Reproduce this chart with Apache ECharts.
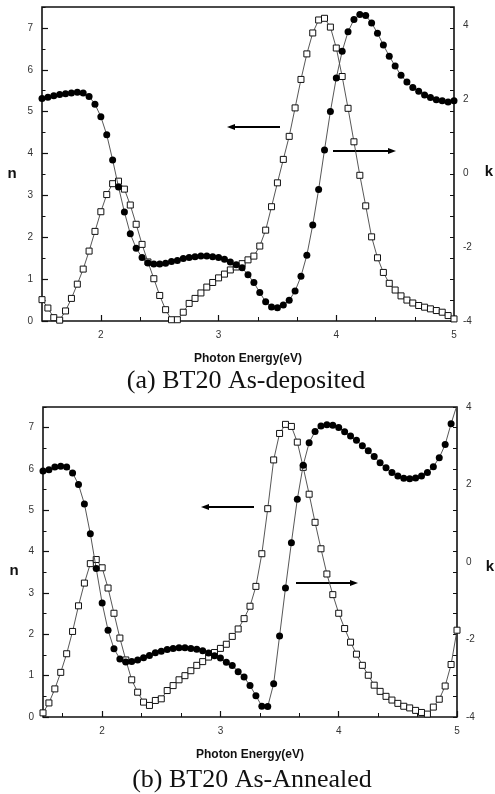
<!DOCTYPE html>
<html>
<head>
<meta charset="utf-8">
<title>BT20 n, k</title>
<script src="https://cdn.jsdelivr.net/npm/echarts@6.0.0/dist/echarts.min.js"></script>
<style>
    html, body { margin: 0; padding: 0; background: #fff; }
    #chart { width: 495px; height: 794px; }
</style>
</head>
<body>
<div id="chart"></div>
<script>
// photon energy grid (eV), shared by both panels
const energy = [1.50, 1.55, 1.60, 1.65, 1.70, 1.75, 1.80, 1.85, 1.90, 1.95,
    2.00, 2.05, 2.10, 2.15, 2.20, 2.25, 2.30, 2.35, 2.40, 2.45,
    2.50, 2.55, 2.60, 2.65, 2.70, 2.75, 2.80, 2.85, 2.90, 2.95,
    3.00, 3.05, 3.10, 3.15, 3.20, 3.25, 3.30, 3.35, 3.40, 3.45,
    3.50, 3.55, 3.60, 3.65, 3.70, 3.75, 3.80, 3.85, 3.90, 3.95,
    4.00, 4.05, 4.10, 4.15, 4.20, 4.25, 4.30, 4.35, 4.40, 4.45,
    4.50, 4.55, 4.60, 4.65, 4.70, 4.75, 4.80, 4.85, 4.90, 4.95, 5.00];

// (a) as-deposited : n (open squares, left axis), k (filled circles, right axis)
const nDeposited = [0.51, 0.31, 0.08, 0.02, 0.24, 0.54, 0.88, 1.24, 1.67, 2.14,
    2.61, 3.02, 3.28, 3.34, 3.15, 2.77, 2.31, 1.83, 1.41, 1.01,
    0.61, 0.27, 0.03, 0.03, 0.21, 0.42, 0.54, 0.67, 0.81, 0.92,
    1.03, 1.12, 1.22, 1.29, 1.37, 1.46, 1.55, 1.79, 2.17, 2.73,
    3.30, 3.86, 4.41, 5.09, 5.77, 6.38, 6.88, 7.19, 7.23, 7.02,
    6.52, 5.84, 5.08, 4.28, 3.48, 2.75, 2.01, 1.51, 1.16, 0.90,
    0.74, 0.60, 0.50, 0.43, 0.37, 0.33, 0.29, 0.25, 0.21, 0.13, 0.05];
const kDeposited = [2.02, 2.06, 2.10, 2.13, 2.15, 2.17, 2.19, 2.17, 2.08, 1.87,
    1.53, 1.04, 0.36, -0.37, -1.05, -1.64, -2.03, -2.28, -2.43, -2.46,
    -2.46, -2.44, -2.39, -2.36, -2.31, -2.28, -2.26, -2.24, -2.24, -2.26,
    -2.28, -2.33, -2.40, -2.48, -2.56, -2.75, -2.96, -3.23, -3.48, -3.62,
    -3.64, -3.57, -3.44, -3.19, -2.79, -2.22, -1.40, -0.44, 0.63, 1.67,
    2.58, 3.30, 3.83, 4.16, 4.30, 4.27, 4.07, 3.79, 3.47, 3.17,
    2.90, 2.65, 2.47, 2.32, 2.22, 2.12, 2.05, 1.99, 1.96, 1.93, 1.96];

// (b) as-annealed
const nAnnealed = [0.10, 0.34, 0.68, 1.08, 1.53, 2.07, 2.69, 3.24, 3.71, 3.81,
    3.61, 3.12, 2.51, 1.91, 1.38, 0.90, 0.60, 0.36, 0.28, 0.40,
    0.44, 0.64, 0.76, 0.90, 1.00, 1.12, 1.25, 1.34, 1.45, 1.56,
    1.66, 1.76, 1.95, 2.13, 2.38, 2.68, 3.16, 3.95, 5.04, 6.22,
    6.86, 7.08, 7.03, 6.65, 6.04, 5.39, 4.71, 4.07, 3.46, 2.96,
    2.51, 2.14, 1.81, 1.52, 1.25, 1.01, 0.77, 0.62, 0.50, 0.41,
    0.33, 0.26, 0.22, 0.16, 0.11, 0.07, 0.24, 0.43, 0.75, 1.27, 2.10];
const kAnnealed = [2.35, 2.38, 2.45, 2.47, 2.45, 2.30, 2.00, 1.50, 0.73, -0.17,
    -1.06, -1.76, -2.24, -2.50, -2.58, -2.57, -2.53, -2.47, -2.41, -2.34,
    -2.30, -2.26, -2.23, -2.21, -2.21, -2.23, -2.25, -2.29, -2.35, -2.42,
    -2.48, -2.59, -2.67, -2.83, -2.97, -3.19, -3.45, -3.72, -3.73, -3.14,
    -1.91, -0.67, 0.50, 1.62, 2.50, 3.08, 3.37, 3.51, 3.54, 3.53,
    3.47, 3.36, 3.25, 3.14, 3.00, 2.87, 2.72, 2.56, 2.43, 2.31,
    2.22, 2.16, 2.15, 2.17, 2.22, 2.31, 2.46, 2.69, 3.03, 3.57, 4.05];

// tick positions / labels
const xTicks = [2, 3, 4, 5];
const xMinorTicks = [1.6667, 2.3333, 2.6667, 3.3333, 3.6667, 4.3333, 4.6667];
const captions = ['(a) BT20 As-deposited', '(b) BT20 As-Annealed'];
const xTitle = 'Photon Energy(eV)';

const SANS = 'Liberation Sans';
const SERIF = 'Liberation Serif';
const labelStyle = { fontFamily: SANS, fontSize: 10, color: '#333' };

// panel frames (px)
const panels = [
    { left: 42, top: 7, width: 412, height: 314, kMax: 4.5 },
    { left: 43, top: 407, width: 414, height: 310, kMax: 4 },
];

const pair = (ys) => energy.map((x, i) => [x, ys[i]]);

let grid = [], xAxis = [], yAxis = [], series = [];

panels.forEach((p, g) => {
    grid.push({
        left: p.left, top: p.top, width: p.width, height: p.height,
        show: true, borderColor: '#111', borderWidth: 1.6,
    });
    // main x axis with labels + minor x ticks
    xAxis.push({
        gridIndex: g, type: 'value', min: 1.5, max: 5, position: 'bottom',
        axisLine: { show: false },
        axisTick: { show: true, inside: true, length: 6, customValues: xTicks, lineStyle: { color: '#111', width: 1.2 } },
        axisLabel: { customValues: xTicks, margin: 9, ...labelStyle },
        splitLine: { show: false },
        name: xTitle, nameLocation: 'middle', nameGap: 32,
        nameTextStyle: { fontFamily: SANS, fontSize: 12, fontWeight: 'bold', color: '#111' },
    });
    xAxis.push({
        gridIndex: g, type: 'value', min: 1.5, max: 5, position: 'bottom',
        axisLine: { show: false },
        axisTick: { show: true, inside: true, length: 4, customValues: xMinorTicks, lineStyle: { color: '#111', width: 1 } },
        axisLabel: { show: false },
        splitLine: { show: false },
    });
    // n axis (left), its half-step ticks, mirrored ticks on the right, k axis (right)
    yAxis.push({
        gridIndex: g, type: 'value', min: 0, max: 7.5, interval: 1, position: 'left',
        axisLine: { show: false },
        axisTick: { show: true, inside: true, length: 6, lineStyle: { color: '#111', width: 1.2 } },
        axisLabel: { margin: 9, showMaxLabel: false, ...labelStyle },
        splitLine: { show: false },
    });
    yAxis.push({
        gridIndex: g, type: 'value', min: 0, max: 7.5, interval: 0.5, position: 'left',
        axisLine: { show: false },
        axisTick: { show: true, inside: true, length: 3.5, lineStyle: { color: '#111', width: 1 } },
        axisLabel: { show: false },
        splitLine: { show: false },
    });
    yAxis.push({
        gridIndex: g, type: 'value', min: 0, max: 7.5, interval: 0.5, position: 'right',
        axisLine: { show: false },
        axisTick: { show: true, inside: true, length: 4, lineStyle: { color: '#111', width: 1 } },
        axisLabel: { show: false },
        splitLine: { show: false },
    });
    yAxis.push({
        gridIndex: g, type: 'value', min: -4, max: p.kMax, interval: 2, position: 'right',
        axisLine: { show: false },
        axisTick: { show: false },
        axisLabel: { margin: 9, showMaxLabel: p.kMax === 4, ...labelStyle },
        splitLine: { show: false },
    });
});

const squareSeries = (data, g) => ({
    type: 'line', xAxisIndex: g * 2, yAxisIndex: g * 4, data: data,
    symbol: 'rect', symbolSize: 6, showAllSymbol: true,
    lineStyle: { color: '#444', width: 0.9 },
    itemStyle: { color: '#fff', borderColor: '#111', borderWidth: 1 },
    animation: false, z: 2,
});
const circleSeries = (data, g) => ({
    type: 'line', xAxisIndex: g * 2, yAxisIndex: g * 4 + 3, data: data,
    symbol: 'circle', symbolSize: 7, showAllSymbol: true,
    lineStyle: { color: '#444', width: 0.9 },
    itemStyle: { color: '#000', borderColor: '#000', borderWidth: 0 },
    animation: false, z: 3,
});

series.push(squareSeries(pair(nDeposited), 0));
series.push(circleSeries(pair(kDeposited), 0));
series.push(squareSeries(pair(nAnnealed), 1));
series.push(circleSeries(pair(kAnnealed), 1));

// arrows: [x tail, x head, y]
function arrow(x1, x2, y) {
    const dir = x2 > x1 ? 1 : -1;
    return [
        { type: 'line', shape: { x1: x1, y1: y, x2: x2 - dir * 5, y2: y }, style: { stroke: '#000', lineWidth: 2 } },
        { type: 'polygon', shape: { points: [[x2, y], [x2 - dir * 8, y - 3], [x2 - dir * 8, y + 3]] }, style: { fill: '#000' } },
    ];
}
const txt = (x, y, text, font, size, weight, align) => ({
    type: 'text', x: x, y: y,
    style: { text: text, fontFamily: font, fontSize: size, fontWeight: weight || 'normal', fill: '#111', align: align || 'center', verticalAlign: 'middle' },
});

const graphic = [].concat(
    arrow(280, 227, 127), arrow(333, 396, 151),
    arrow(254, 201, 507), arrow(296, 358, 583),
    [
        txt(12, 174, 'n', SANS, 15, 'bold'),
        txt(489, 172, 'k', SANS, 15, 'bold'),
        txt(14, 571, 'n', SANS, 15, 'bold'),
        txt(490, 567, 'k', SANS, 15, 'bold'),
        txt(246, 381, captions[0], SERIF, 26),
        txt(252, 780, captions[1], SERIF, 26),
    ]
);

const myChart = echarts.init(document.getElementById('chart'), null, { renderer: 'canvas' });
myChart.setOption({
    backgroundColor: '#fff',
    animation: false,
    grid: grid,
    xAxis: xAxis,
    yAxis: yAxis,
    series: series,
    graphic: graphic,
});
</script>
</body>
</html>
